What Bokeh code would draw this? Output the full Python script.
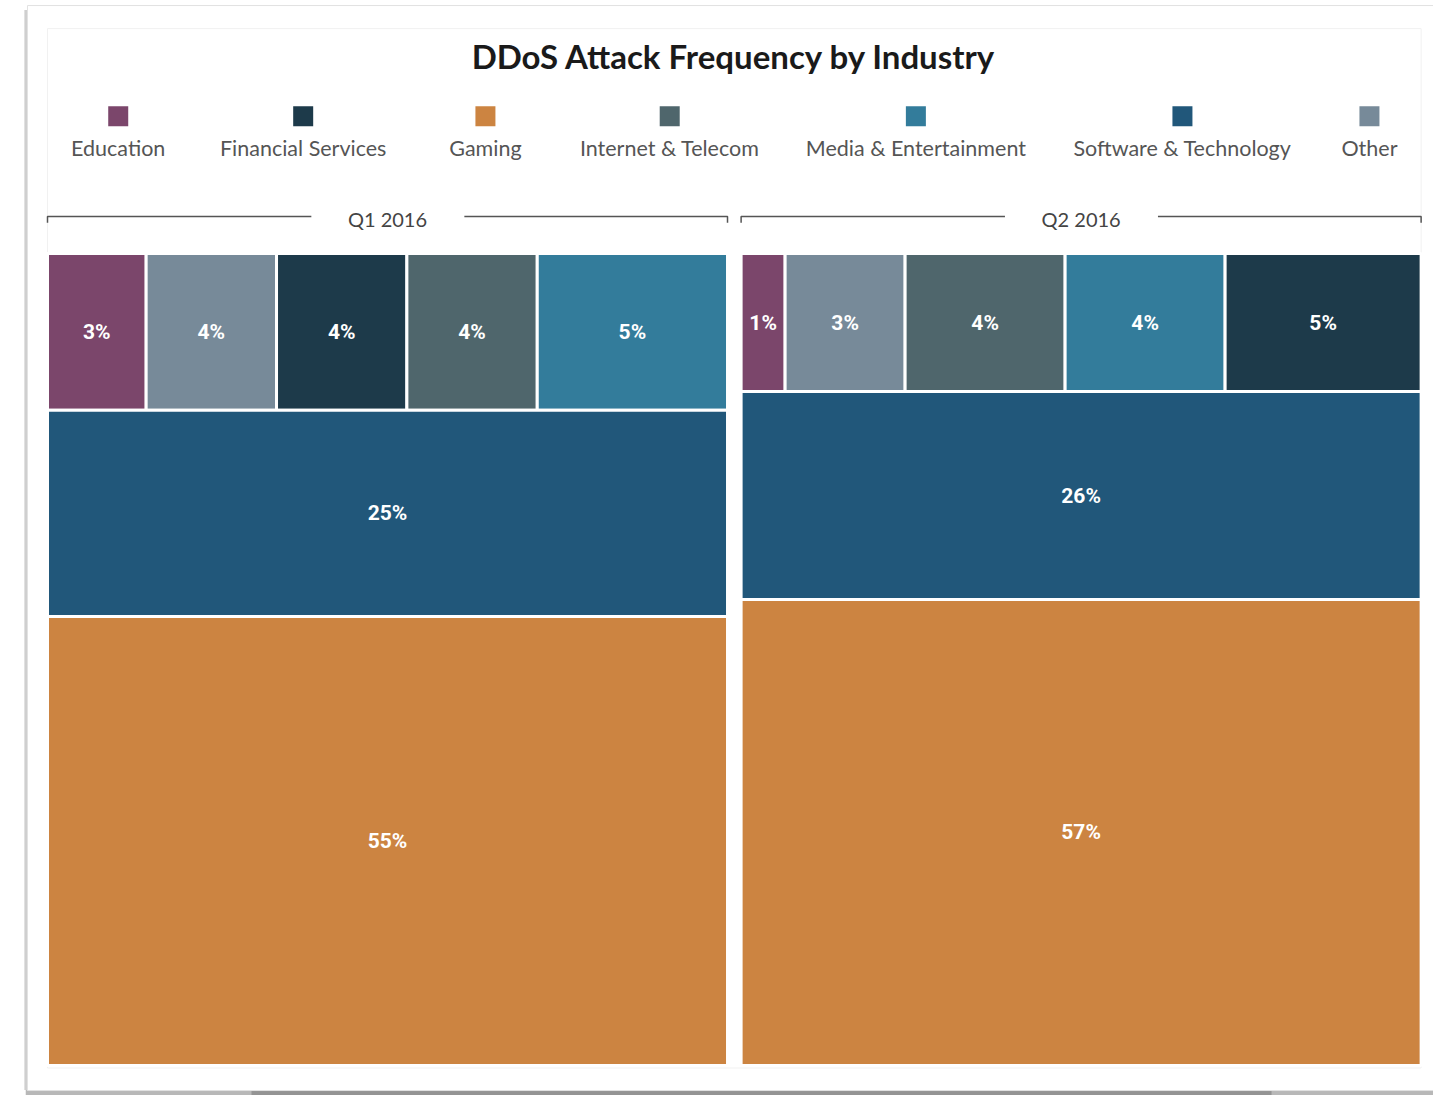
from bokeh.plotting import figure
from bokeh.models import Range1d, ColumnDataSource
from bokeh.core.properties import value
from bokeh.embed import file_html
from bokeh.resources import INLINE

# ---------------- data ----------------
title_text = "DDoS Attack Frequency by Industry"
industries = ["Education", "Financial Services", "Gaming", "Internet & Telecom",
              "Media & Entertainment", "Software & Technology", "Other"]
colors = ["#7b466b", "#1d3a4a", "#cc8441", "#4f666c", "#337c9b", "#21577a", "#778a99"]
quarters = ["Q1 2016", "Q2 2016"]
q1_share = [2.8, 3.7, 55.3, 3.7, 5.4, 25.4, 3.7]
q2_share = [1.1, 4.9, 57.4, 4.0, 4.0, 25.6, 3.0]
q1_top_row = ["Education", "Other", "Financial Services", "Internet & Telecom", "Media & Entertainment"]
q2_top_row = ["Education", "Other", "Internet & Telecom", "Media & Entertainment", "Financial Services"]
stacked_rows = ["Software & Technology", "Gaming"]

# ---------------- layout ----------------
PANEL_W = 100.0
PANEL_GAP = 2.0
color_of = dict(zip(industries, colors))

def treemap(shares, top_row, x0):
    d = dict(zip(industries, shares))
    total = sum(shares)
    rects = []
    top_sum = sum(d[k] for k in top_row)
    h0 = top_sum / total * 100.0
    x = x0
    for k in top_row:
        w = d[k] / top_sum * PANEL_W
        rects.append((k, x, x + w, 100.0 - h0, 100.0, d[k]))
        x += w
    ytop = 100.0 - h0
    for k in stacked_rows:
        h = d[k] / total * 100.0
        rects.append((k, x0, x0 + PANEL_W, ytop - h, ytop, d[k]))
        ytop -= h
    return rects

rects = treemap(q1_share, q1_top_row, 0.0) + treemap(q2_share, q2_top_row, PANEL_W + PANEL_GAP)
src = ColumnDataSource(dict(
    left=[r[1] for r in rects], right=[r[2] for r in rects],
    bottom=[r[3] for r in rects], top=[r[4] for r in rects],
    color=[color_of[r[0]] for r in rects],
    cx=[(r[1] + r[2]) / 2 for r in rects], cy=[(r[3] + r[4]) / 2 for r in rects],
    label=[f"{round(r[5])}%" for r in rects],
))

p = figure(width=1433, height=1095, x_range=Range1d(-6.912, 203.82), y_range=Range1d(-3.69, 131.16),
           output_backend="svg", toolbar_location=None,
           x_axis_location=None, y_axis_location=None)
p.grid.visible = False
p.outline_line_color = None
p.min_border = 0
p.background_fill_color = "white"
p.border_fill_color = "white"

# card with shadow
p.quad(left=[-3.2], right=[206], bottom=[-3.69], top=[-2.9], fill_color="#b8b8b8", line_color=None)
p.quad(left=[30], right=[180], bottom=[-3.69], top=[-2.95], fill_color="#949494", line_color=None)
p.quad(left=[-3.4], right=[-2.9], bottom=[-3.0], top=[130.0], fill_color="#cfcfcf", line_color=None)
p.quad(left=[-2.94], right=[206], bottom=[-3.08], top=[130.54], fill_color="white",
       line_color="#e2e2e2", line_width=1)
p.quad(left=[0], right=[202], bottom=[-0.3], top=[127.7], fill_color=None,
       line_color="#f1f1f1", line_width=1)

# treemap cells
p.quad(left="left", right="right", bottom="bottom", top="top", fill_color="color",
       line_color="white", line_width=3, source=src)
p.text(x="cx", y="cy", text="label", source=src, text_color="white",
       text_font=value("Roboto"), text_font_style="bold",
       text_font_size="21px", text_align="center", text_baseline="middle")

# title
p.text(x=[101.0], y=[124.3], text=[title_text], text_font=value("Lato"), text_font_style="bold",
       text_font_size="33px", text_color="#1a1a1a", text_align="center", text_baseline="middle")

# legend (square above label)
legend_x = [10.4, 37.6, 64.4, 91.5, 127.7, 166.9, 194.4]
p.scatter(x=legend_x, y=[116.9] * 7, marker="square", size=20, fill_color=colors, line_color=None)
p.text(x=legend_x, y=[113.0] * 7, text=industries, text_font=value("Lato"), text_font_size="21.5px",
       text_color="#555555", text_align="center", text_baseline="middle")

# panel headers
y_line, y_tick = 104.56, 103.8
for i, q in enumerate(quarters):
    x0 = i * (PANEL_W + PANEL_GAP)
    p.text(x=[x0 + 50], y=[104.25], text=[q], text_font=value("Lato"), text_font_size="20px",
           text_color="#444444", text_align="center", text_baseline="middle")
    p.line(x=[x0, x0, x0 + 38.8], y=[y_tick, y_line, y_line], line_color="#555555", line_width=1.5)
    p.line(x=[x0 + 61.3, x0 + PANEL_W, x0 + PANEL_W], y=[y_line, y_line, y_tick],
           line_color="#555555", line_width=1.5)

open("out.html", "w").write(file_html(p, INLINE))
